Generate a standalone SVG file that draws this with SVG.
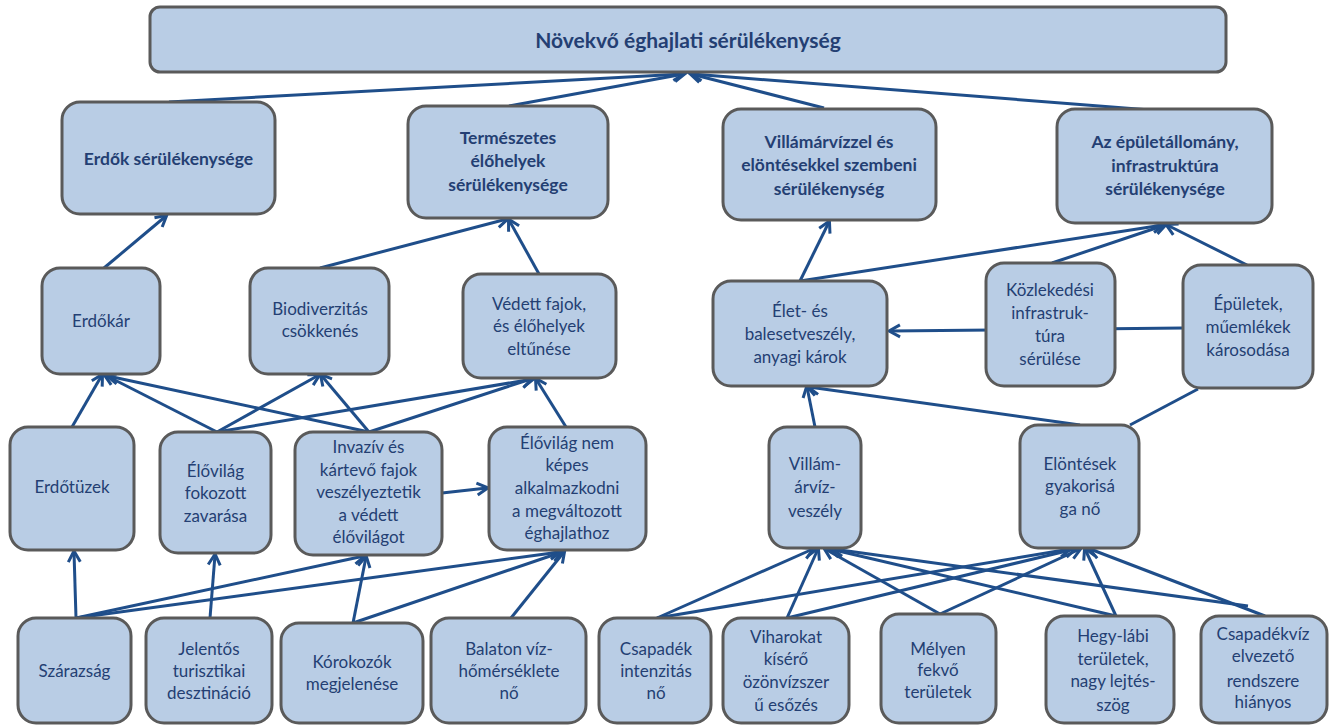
<svg xmlns="http://www.w3.org/2000/svg" width="1343" height="726" viewBox="0 0 1343 726">
<defs>
<style>
.box{fill:#B9CDE5;stroke:#5A5A5A;stroke-width:3}
.t{font-family:Lato,"Open Sans",sans-serif;font-size:17px;fill:#243F73;text-anchor:middle}
.b{font-weight:bold;font-size:17.5px}
.title{font-size:21px}
.c line{stroke:#1F4E8A;stroke-width:3}
.c .a{marker-end:url(#arr)}
</style>
<marker id="arr" viewBox="-2 -2 16 16" refX="10" refY="6" markerWidth="16" markerHeight="16" markerUnits="userSpaceOnUse" orient="auto">
<path d="M0,0 L11,6 L0,12" fill="none" stroke="#1F4E8A" stroke-width="3"/>
</marker>
</defs>
<rect width="1343" height="726" fill="#FFFFFF"/>
<g id="connectors" class="c">
<line class="a" x1="169" y1="102" x2="683" y2="74"/>
<line class="a" x1="509" y1="106" x2="684" y2="74"/>
<line class="a" x1="824" y1="108" x2="691" y2="74"/>
<line class="a" x1="1163" y1="111" x2="692" y2="74"/>
<line class="a" x1="104" y1="268" x2="166" y2="216"/>
<line class="a" x1="320" y1="268" x2="507" y2="219"/>
<line class="a" x1="539" y1="274" x2="509" y2="220"/>
<line class="a" x1="800" y1="281" x2="829" y2="222"/>
<line class="a" x1="800" y1="281" x2="1163" y2="225"/>
<line class="a" x1="1052" y1="263" x2="1165" y2="225"/>
<line class="a" x1="1247" y1="265" x2="1167" y2="225"/>
<line class="a" x1="1183" y1="328" x2="890" y2="331"/>
<line class="a" x1="72" y1="427" x2="102" y2="375"/>
<line class="a" x1="217" y1="432" x2="105" y2="375"/>
<line class="a" x1="217" y1="432" x2="319" y2="375"/>
<line class="a" x1="217" y1="432" x2="533" y2="379"/>
<line class="a" x1="369" y1="432" x2="108" y2="376"/>
<line class="a" x1="369" y1="432" x2="321" y2="375"/>
<line class="a" x1="369" y1="432" x2="531" y2="379"/>
<line class="a" x1="442" y1="493" x2="487" y2="488"/>
<line class="a" x1="566" y1="427" x2="536" y2="379"/>
<line class="a" x1="815" y1="427" x2="807" y2="387"/>
<line class="a" x1="1080" y1="425" x2="809" y2="387"/>
<line x1="1130" y1="425" x2="1198" y2="389"/>
<line class="a" x1="76" y1="618" x2="74" y2="552"/>
<line class="a" x1="76" y1="618" x2="364" y2="556"/>
<line class="a" x1="76" y1="618" x2="560" y2="552"/>
<line class="a" x1="210" y1="618" x2="215" y2="555"/>
<line class="a" x1="353" y1="623" x2="366" y2="557"/>
<line class="a" x1="353" y1="623" x2="562" y2="552"/>
<line class="a" x1="511" y1="618" x2="564" y2="552"/>
<line class="a" x1="657" y1="618" x2="813" y2="549"/>
<line class="a" x1="657" y1="618" x2="1070" y2="549"/>
<line class="a" x1="787" y1="618" x2="818" y2="549"/>
<line class="a" x1="787" y1="618" x2="1075" y2="549"/>
<line class="a" x1="940" y1="614" x2="825" y2="549"/>
<line class="a" x1="940" y1="614" x2="1080" y2="549"/>
<line class="a" x1="1116" y1="616" x2="830" y2="549"/>
<line class="a" x1="1116" y1="616" x2="1085" y2="549"/>
<line class="a" x1="1265" y1="616" x2="1090" y2="549"/>
<line class="a" x1="1248" y1="606" x2="833" y2="549"/>
</g>
<g id="n-top"><rect class="box" x="150" y="7" width="1076" height="65" rx="10"/><text class="t b title" x="688" y="48">Növekvő éghajlati sérülékenység</text></g>
<g id="n-erdok-ser"><rect class="box" x="62" y="102" width="213" height="112" rx="18"/><text class="t b" x="168.5" y="165">Erdők sérülékenysége</text></g>
<g id="n-term"><rect class="box" x="408" y="106" width="200" height="112" rx="18"/><text class="t b" x="508"><tspan x="508" y="144">Természetes</tspan><tspan x="508" y="167">élőhelyek</tspan><tspan x="508" y="191">sérülékenysége</tspan></text></g>
<g id="n-villamarv"><rect class="box" x="723" y="109" width="213" height="111" rx="18"/><text class="t b"><tspan x="829" y="148">Villámárvízzel és</tspan><tspan x="829" y="171">elöntésekkel szembeni</tspan><tspan x="829" y="195">sérülékenység</tspan></text></g>
<g id="n-epulet-ser"><rect class="box" x="1057" y="109" width="215" height="114" rx="18"/><text class="t b"><tspan x="1165" y="148">Az épületállomány,</tspan><tspan x="1165" y="172">infrastruktúra</tspan><tspan x="1165" y="195">sérülékenysége</tspan></text></g>
<g id="n-erdokar"><rect class="box" x="42" y="268" width="118" height="106" rx="18"/><text class="t" x="101" y="327">Erdőkár</text></g>
<g id="n-biodiv"><rect class="box" x="250" y="268" width="139" height="106" rx="18"/><text class="t"><tspan x="320" y="315">Biodiverzitás</tspan><tspan x="320" y="337">csökkenés</tspan></text></g>
<g id="n-vedett"><rect class="box" x="463" y="274" width="153" height="104" rx="18"/><text class="t"><tspan x="539" y="310">Védett fajok,</tspan><tspan x="539" y="332">és élőhelyek</tspan><tspan x="539" y="355">eltűnése</tspan></text></g>
<g id="n-elet"><rect class="box" x="713" y="281" width="174" height="105" rx="18"/><text class="t"><tspan x="800" y="317">Élet- és</tspan><tspan x="800" y="340">balesetveszély,</tspan><tspan x="800" y="363">anyagi károk</tspan></text></g>
<g id="n-kozlek"><rect class="box" x="986" y="263" width="129" height="123" rx="18"/><text class="t"><tspan x="1050" y="296">Közlekedési</tspan><tspan x="1050" y="319">infrastruk-</tspan><tspan x="1050" y="342">túra</tspan><tspan x="1050" y="365">sérülése</tspan></text></g>
<g id="n-epuletek"><rect class="box" x="1183" y="265" width="130" height="123" rx="18"/><text class="t"><tspan x="1248" y="310">Épületek,</tspan><tspan x="1248" y="333">műemlékek</tspan><tspan x="1248" y="356">károsodása</tspan></text></g>
<g id="n-erdotuzek"><rect class="box" x="10" y="427" width="124" height="123" rx="18"/><text class="t" x="72" y="493">Erdőtüzek</text></g>
<g id="n-elovilag-zav"><rect class="box" x="160" y="432" width="111" height="121" rx="18"/><text class="t"><tspan x="215.5" y="477">Élővilág</tspan><tspan x="215.5" y="499">fokozott</tspan><tspan x="215.5" y="522">zavarása</tspan></text></g>
<g id="n-invaziv"><rect class="box" x="295" y="432" width="147" height="123" rx="18"/><text class="t"><tspan x="368.5" y="453">Invazív és</tspan><tspan x="368.5" y="475.5">kártevő fajok</tspan><tspan x="368.5" y="498">veszélyeztetik</tspan><tspan x="368.5" y="521">a védett</tspan><tspan x="368.5" y="543">élővilágot</tspan></text></g>
<g id="n-elovilag-nem"><rect class="box" x="489" y="427" width="157" height="123" rx="18"/><text class="t"><tspan x="567" y="449">Élővilág nem</tspan><tspan x="567" y="471">képes</tspan><tspan x="567" y="494">alkalmazkodni</tspan><tspan x="567" y="517">a megváltozott</tspan><tspan x="567" y="539">éghajlathoz</tspan></text></g>
<g id="n-villam"><rect class="box" x="769" y="427" width="92" height="121" rx="18"/><text class="t"><tspan x="815" y="470">Villám-</tspan><tspan x="815" y="493">árvíz-</tspan><tspan x="815" y="517">veszély</tspan></text></g>
<g id="n-elontesek"><rect class="box" x="1020" y="425" width="119" height="123" rx="18"/><text class="t"><tspan x="1080" y="470">Elöntések</tspan><tspan x="1080" y="492">gyakorisá</tspan><tspan x="1080" y="515">ga nő</tspan></text></g>
<g id="n-szarazsag"><rect class="box" x="18" y="618" width="113" height="105" rx="18"/><text class="t" x="74.5" y="677">Szárazság</text></g>
<g id="n-jelentos"><rect class="box" x="146" y="618" width="126" height="105" rx="18"/><text class="t"><tspan x="209" y="655">Jelentős</tspan><tspan x="209" y="677">turisztikai</tspan><tspan x="209" y="699">desztináció</tspan></text></g>
<g id="n-korokozok"><rect class="box" x="281" y="623" width="142" height="100" rx="18"/><text class="t"><tspan x="352" y="668">Kórokozók</tspan><tspan x="352" y="690">megjelenése</tspan></text></g>
<g id="n-balaton"><rect class="box" x="431" y="618" width="155" height="105" rx="18"/><text class="t"><tspan x="509" y="655">Balaton víz-</tspan><tspan x="509" y="677">hőmérséklete</tspan><tspan x="509" y="699">nő</tspan></text></g>
<g id="n-csapadek"><rect class="box" x="599" y="618" width="112" height="105" rx="18"/><text class="t"><tspan x="656" y="655">Csapadék</tspan><tspan x="656" y="677">intenzitás</tspan><tspan x="656" y="699">nő</tspan></text></g>
<g id="n-viharokat"><rect class="box" x="723" y="618" width="126" height="105" rx="18"/><text class="t"><tspan x="786" y="643">Viharokat</tspan><tspan x="786" y="665">kísérő</tspan><tspan x="786" y="688">özönvízszer</tspan><tspan x="786" y="711">ű esőzés</tspan></text></g>
<g id="n-melyen"><rect class="box" x="881" y="614" width="115" height="109" rx="18"/><text class="t"><tspan x="938" y="655">Mélyen</tspan><tspan x="938" y="676">fekvő</tspan><tspan x="938" y="698">területek</tspan></text></g>
<g id="n-hegylabi"><rect class="box" x="1046" y="616" width="128" height="107" rx="18"/><text class="t"><tspan x="1113" y="642">Hegy-lábi</tspan><tspan x="1113" y="665">területek,</tspan><tspan x="1113" y="687">nagy lejtés-</tspan><tspan x="1113" y="711">szög</tspan></text></g>
<g id="n-csapadekviz"><rect class="box" x="1201" y="616" width="126" height="107" rx="18"/><text class="t"><tspan x="1263" y="640">Csapadékvíz</tspan><tspan x="1263" y="662">elvezető</tspan><tspan x="1263" y="687">rendszere</tspan><tspan x="1263" y="708">hiányos</tspan></text></g>
</svg>
